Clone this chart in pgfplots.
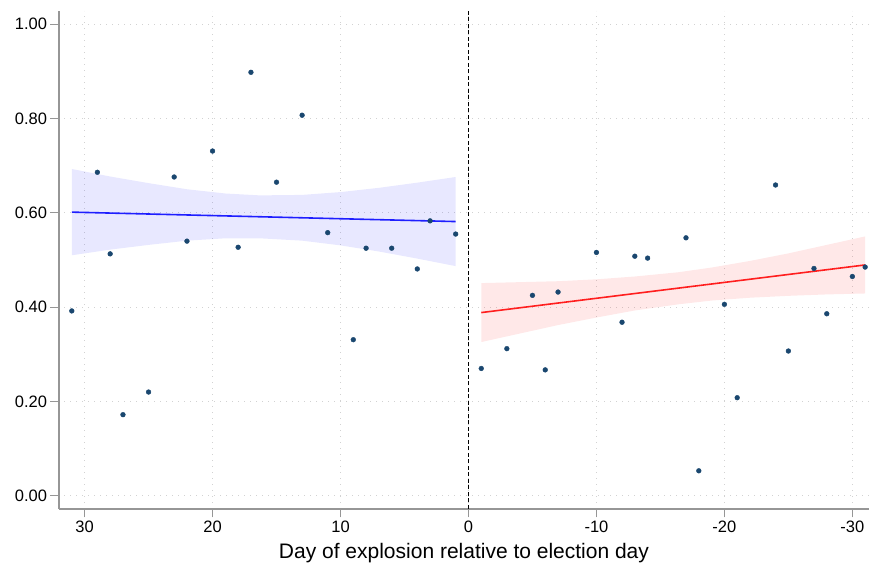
\documentclass[border=0pt]{standalone}
\usepackage{fontspec}
\setmainfont{Liberation Sans}
\usepackage{pgfplots}
\pgfplotsset{compat=1.18}
\definecolor{navy}{RGB}{26,71,111}
\definecolor{sblue}{RGB}{30,30,255}
\definecolor{sred}{RGB}{255,30,30}
\definecolor{axgray}{RGB}{150,150,150}
\definecolor{gridgray}{RGB}{210,210,210}
\begin{document}
\begin{tikzpicture}
\begin{axis}[
  scale only axis, width=810pt, height=498pt,
  x dir=reverse,
  xmin=-31.3, xmax=32, ymin=-0.028, ymax=1.028,
  axis x line*=bottom, axis y line*=left,
  axis line style={axgray, line width=1.3pt},
  xtick={30,20,10,0,-10,-20,-30},
  xticklabels={30,20,10,0,-10,-20,-30},
  ytick={0,0.2,0.4,0.6,0.8,1.0},
  yticklabel style={/pgf/number format/.cd, fixed, fixed zerofill, precision=2, assume math mode=true},
  tick label style={font=\fontsize{16.5}{18}\selectfont, text=black},
  tick align=outside, major tick length=8.5pt,
  tick style={axgray, line width=1.2pt},
  grid=major,
  major grid style={gridgray, line width=1pt, dash pattern=on 1pt off 5pt},
  xlabel={Day of explosion relative to election day},
  xlabel style={font=\fontsize{21}{24}\selectfont, yshift=-4pt},
  clip=false,
]
% scatter
\addplot[only marks, mark=*, mark size=2.4pt, mark options={fill=navy, draw=navy}] coordinates {
(31,0.392) (29,0.686) (28,0.513) (27,0.172) (25,0.220) (23,0.676) (22,0.540) (20,0.731)
(18,0.527) (17,0.898) (15,0.665) (13,0.807) (11,0.558) (9,0.331) (8,0.525) (6,0.525)
(4,0.481) (3,0.583) (1,0.555)
(-1,0.270) (-3,0.312) (-5,0.425) (-6,0.267) (-7,0.432) (-10,0.516) (-12,0.368) (-13,0.508)
(-14,0.504) (-17,0.547) (-18,0.053) (-20,0.406) (-21,0.208) (-24,0.659) (-25,0.307)
(-27,0.482) (-28,0.386) (-30,0.465) (-31,0.485)
};
% blue CI band
\addplot[draw=none, fill=sblue, fill opacity=0.1] coordinates {
(31,0.693) (28,0.677) (25,0.663) (22,0.650) (19,0.641) (16.3,0.637) (13,0.638) (10,0.644) (7,0.653) (4,0.664) (1,0.676)
(1,0.487) (4,0.503) (7,0.518) (10,0.531) (13,0.541) (16.3,0.546) (19,0.546) (22,0.541) (25,0.532) (28,0.522) (31,0.510)
} -- cycle;
% red CI band
\addplot[draw=none, fill=sred, fill opacity=0.1] coordinates {
(-1,0.451) (-4,0.453) (-7,0.455) (-10,0.459) (-13,0.465) (-16.4,0.474) (-19,0.484) (-22,0.498) (-25,0.514) (-28,0.532) (-31,0.550)
(-31,0.429) (-28,0.427) (-25,0.424) (-22,0.420) (-19,0.414) (-16.4,0.406) (-13,0.393) (-10,0.378) (-7,0.362) (-4,0.344) (-1,0.326)
} -- cycle;
% fit lines
\addplot[sblue, line width=1.6pt] coordinates {(31,0.6015) (1,0.5815)};
\addplot[sred, line width=1.6pt] coordinates {(-1,0.3885) (-31,0.4895)};
% vertical dashed line
\addplot[black, line width=1.3pt, dash pattern=on 4pt off 2.5pt] coordinates {(0,-0.028) (0,1.028)};
\end{axis}
\path (current axis.south west) ++(-59pt,-60pt);
\path (current axis.north east) ++(1pt,11pt);
\end{tikzpicture}
\end{document}
